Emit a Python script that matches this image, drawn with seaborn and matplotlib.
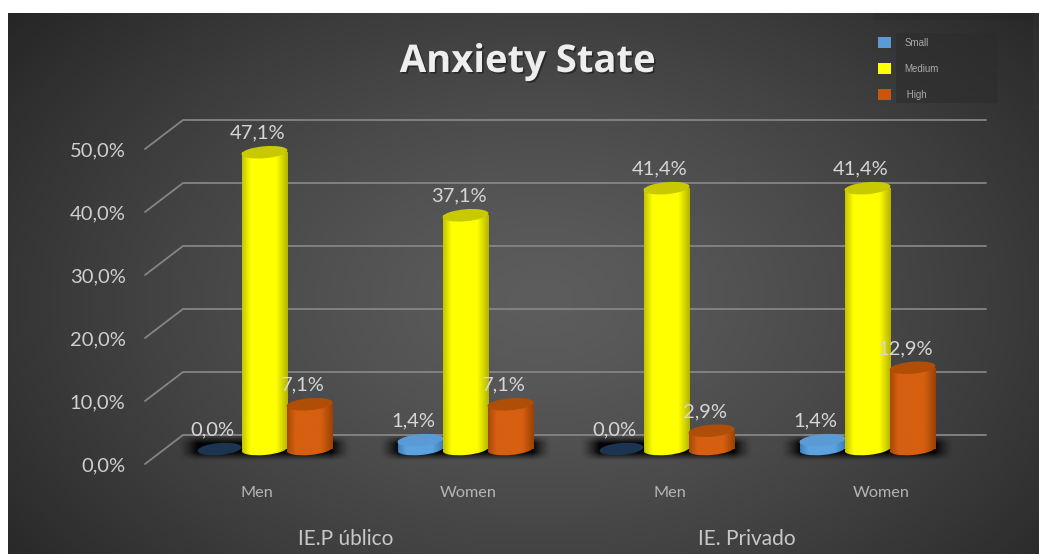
import numpy as np
import pandas as pd
import seaborn as sns
import matplotlib
matplotlib.use("Agg")
import matplotlib.pyplot as plt
from matplotlib.patches import Ellipse, Patch, Rectangle
from matplotlib.transforms import IdentityTransform
import matplotlib.patheffects as pe

title = "Anxiety State"
slots = ["A-Men", "A-Women", "B-Men", "B-Women"]
slot_labels = ["Men", "Women", "Men", "Women"]
groups = ["IE.P úblico", "IE. Privado"]
levels = ["Small", "Medium", "High"]
small = [0.0, 1.4, 0.0, 1.4]
medium = [47.1, 37.1, 41.4, 41.4]
high = [7.1, 7.1, 2.9, 12.9]
yvals = [0, 10, 20, 30, 40, 50]

W, H = 1039, 554
sns.set_theme(style="white")
plt.rcParams["font.family"] = ["Lato", "DejaVu Sans"]
fig = plt.figure(figsize=(W / 100, H / 100), dpi=100, facecolor="white")

# background
bg = fig.add_axes([8 / W, 0, 1 - 8 / W, 1 - 13 / H], zorder=0)
yy, xx = np.mgrid[13:554, 8:1039]
r = np.sqrt(((xx - 540) / 640.0) ** 2 + ((yy - 300) / 430.0) ** 2)
g = np.clip(0.365 - 0.20 * np.clip(r, 0, 1.2) ** 1.3, 0, 1)
bg.imshow(np.dstack([g, g, g]), aspect="auto", interpolation="bilinear")
bg.axis("off")
fig.add_artist(Rectangle((873 / W, 1 - 20 / H), 160 / W, 7 / H, transform=fig.transFigure, color="#262626", alpha=0.3, lw=0))
fig.add_artist(Rectangle((1033 / W, 1 - 110 / H), 6 / W, 97 / H, transform=fig.transFigure, color="#555555", alpha=0.1, lw=0))

# axes geometry, in pixels of the reference
PX0, SX = 264.5, 201.0
PY0, SY = 449.0, 6.3
left, right, top, bot = 145, 986, 119, 464
ax = fig.add_axes([left / W, 1 - bot / H, (right - left) / W, (bot - top) / H], zorder=1)
ax.patch.set_alpha(0)
xlim = ((left - PX0) / SX, (right - PX0) / SX)
ylim = ((PY0 - bot) / SY, (PY0 - top) / SY)

df = pd.DataFrame({
    "slot": slots * 3,
    "level": np.repeat(levels, 4),
    "value": small + medium + high,
})
palette = {"Small": "#5b9bd5", "Medium": "#ffff00", "High": "#c8560f"}
sns.barplot(data=df, x="slot", y="value", hue="level", order=slots, hue_order=levels,
            palette=palette, width=0.672, gap=0, legend=False, ax=ax, saturation=1, zorder=3)
ax.set_xlim(*xlim)
ax.set_ylim(*ylim)
ax.set_xlabel("")
ax.set_ylabel("")
for s in ax.spines.values():
    s.set_visible(False)

fig.canvas.draw()

# perspective grid
grid_c = "#858585"
back = (PY0 - 435) / SY
front = (PY0 - 464) / SY
dx = (183 - PX0) / SX
for v in yvals:
    ax.plot([xlim[0], dx, xlim[1]], [v + front, v + back, v + back], color=grid_c, lw=1.3,
            zorder=1, clip_on=False, solid_joinstyle="miter")

ax.set_yticks([v + front for v in yvals])
ax.set_yticklabels([f"{v:.1f}%".replace(".", ",") for v in yvals], fontsize=14.5, color="#cfcfcf")
ax.tick_params(axis="y", length=0, pad=14)
ax.set_xticks([-0.037, 1.012, 2.017, 3.067])
ax.set_xticklabels(slot_labels, fontsize=11.7, color="#b5b5b5")
ax.tick_params(axis="x", length=0, pad=15.7)

# floor shadows
sh_h, sh_w = 60, 200
u = np.linspace(-1, 1, sh_w)
w_ = np.linspace(-1, 1, sh_h)
ax_x = np.clip((1 - np.abs(u)) / 0.22, 0, 1)
ax_y = np.clip((1 - np.abs(w_ + 0.1)) / 0.65, 0, 1)
a = (ax_x[None, :] ** 1.4) * (ax_y[:, None] ** 1.2)
shadow = np.zeros((sh_h, sh_w, 4))
shadow[..., 3] = 0.95 * a
for i in range(len(slots)):
    ax.imshow(shadow, extent=(i - 0.43, i + 0.43, -2.0, 2.0), aspect="auto", zorder=2, interpolation="bilinear")


# gradient strips per level
def strip(c_edge, c_mid, c_right):
    t = np.linspace(0, 1, 64)
    c_edge, c_mid, c_right = [np.array(matplotlib.colors.to_rgb(c)) for c in (c_edge, c_mid, c_right)]
    out = np.zeros((1, 64, 3))
    for k, v in enumerate(t):
        if v < 0.18:
            out[0, k] = c_edge + (c_mid - c_edge) * v / 0.18
        elif v < 0.75:
            out[0, k] = c_mid
        else:
            out[0, k] = c_mid + (c_right - c_mid) * (v - 0.75) / 0.25
    return out


styles = {
    "Small": (strip("#3f80bf", "#5ba3e0", "#3a78b5"), "#5b9bd5"),
    "Medium": (strip("#c4c400", "#ffff00", "#b5b500"), "#c9c900"),
    "High": (strip("#a94a08", "#d65f10", "#9a4206"), "#b04e08"),
}
EW, EH, ANG = 46, 12, 5

for h_i, lev in enumerate(levels):
    cont = ax.containers[h_i]
    for i, bar in enumerate(cont.patches):
        val = bar.get_height()
        xc = bar.get_x() + bar.get_width() / 2
        z = 3 + i + h_i * 0.1
        bar.set_zorder(z)
        bar.set_edgecolor("none")
        px, py0 = ax.transData.transform((xc, 0))
        _, py1 = ax.transData.transform((xc, val))
        ext = (bar.get_x(), bar.get_x() + bar.get_width(), 0, max(val, 1e-3))
        grad, top_c = styles[lev]
        if val == 0:
            e = Ellipse((px, py0), EW - 2, EH, angle=ANG, transform=IdentityTransform(),
                        facecolor="#1b3450", edgecolor="none", zorder=z + 0.1, clip_on=False)
            ax.add_artist(e)
            bar.set_visible(False)
        else:
            eb = Ellipse((px, py0), EW, EH, angle=ANG, transform=IdentityTransform())
            im0 = ax.imshow(grad, extent=(ext[0], ext[1], -2, 0.2), aspect="auto", zorder=z, interpolation="bilinear")
            im0.set_clip_path(eb)
            im = ax.imshow(grad, extent=ext, aspect="auto", zorder=z + 0.01, interpolation="bilinear")
            im.set_clip_path(bar)
            et = Ellipse((px, py1), EW, EH, angle=ANG, transform=IdentityTransform(),
                         facecolor=top_c, edgecolor="none", zorder=z + 0.02, clip_on=False)
            ax.add_artist(et)
        ax.annotate(f"{val:.1f}%".replace(".", ","), (xc, val), xytext=(-7, 19), textcoords="offset pixels",
                    ha="center", va="center", fontsize=14.5, color="#d6d6d6", zorder=20, annotation_clip=False)

ax.set_xlim(*xlim)
ax.set_ylim(*ylim)

# group labels
for gx, name in zip([(346 - PX0) / SX, (747 - PX0) / SX], groups):
    ax.text(gx, (PY0 - 539) / SY, name, ha="center", va="center", fontsize=15, color="#c8c8c8", clip_on=False)

# title
fig.text(528 / W, 1 - 62 / H, title, ha="center", va="center", fontsize=27.5, fontweight="bold",
         family="Open Sans", color="#eeeeee", zorder=5,
         path_effects=[pe.withSimplePatchShadow(offset=(1.2, -1.2), shadow_rgbFace="black", alpha=0.4)])

# legend
fig.add_artist(Rectangle((896 / W, 1 - 103 / H), 102 / W, 70 / H, transform=fig.transFigure, color="#2c2c2c", alpha=0.55, lw=0, zorder=0.5))
handles = [Patch(facecolor=palette[l], edgecolor="none") for l in levels]
leg = ax.legend(handles, ["Small", "Medium", " High"], loc="upper left", bbox_to_anchor=(878 / W, 1 - 37 / H),
                bbox_transform=fig.transFigure, frameon=False, fontsize=7, borderpad=0, borderaxespad=0,
                handlelength=1.34, handleheight=1.34, labelspacing=1.55, handletextpad=1.35)
for t in leg.get_texts():
    t.set_color("#aaaaaa")
    t.set_family("Liberation Sans")
leg.set_zorder(30)

fig.savefig("out.png", dpi=100, facecolor="white")
